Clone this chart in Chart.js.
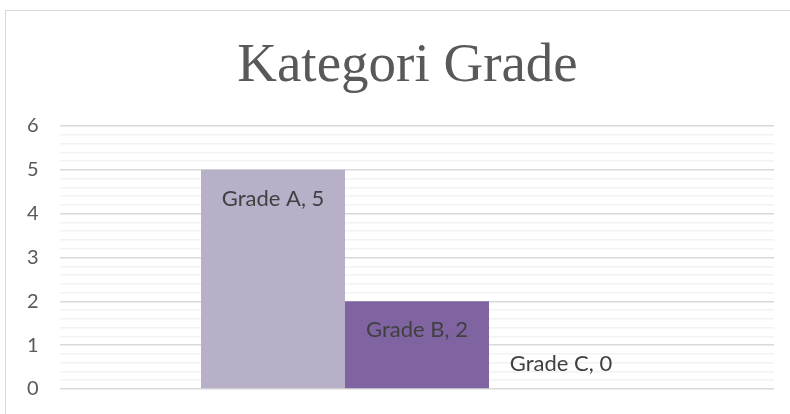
<!DOCTYPE html>
<html>
<head>
<meta charset="utf-8">
<script src="https://cdn.jsdelivr.net/npm/chart.js@4/dist/chart.umd.min.js"></script>
<style>
  html, body { margin: 0; padding: 0; background: #ffffff; }
  #wrap { position: relative; width: 790px; height: 414px; }
</style>
</head>
<body>
<div id="wrap"><canvas id="c" width="790" height="414"></canvas></div>
<script>
const chartTitle = "Kategori Grade";
const categories = ["Kategori"];
const seriesNames = ["Grade A", "Grade B", "Grade C"];
const seriesValues = [[5], [2], [0]];
const seriesColors = ["#B8AFC9", "#8064A2", "#4F3B6B"];
const yTickLabels = [0, 1, 2, 3, 4, 5, 6];

const isMajor = v => Math.abs(v - Math.round(v)) < 1e-6;

const framePlugin = {
  id: 'frame',
  beforeDraw(chart) {
    const ctx = chart.ctx;
    ctx.save();
    ctx.strokeStyle = '#D9D9D9';
    ctx.lineWidth = 1;
    ctx.strokeRect(5.5, 10.5, 1000, 1000);
    ctx.restore();
  }
};

const titlePlugin = {
  id: 'centeredTitle',
  afterDraw(chart) {
    const ctx = chart.ctx;
    ctx.save();
    ctx.font = '55px "Liberation Serif"';
    ctx.fillStyle = '#595959';
    ctx.textAlign = 'center';
    ctx.textBaseline = 'alphabetic';
    ctx.fillText(chartTitle, 407.5, 81);
    ctx.restore();
  }
};

const labelPlugin = {
  id: 'barLabels',
  afterDatasetsDraw(chart) {
    const ctx = chart.ctx;
    ctx.save();
    ctx.font = '22px Lato';
    ctx.fillStyle = '#404040';
    ctx.textAlign = 'center';
    ctx.textBaseline = 'alphabetic';
    chart.data.datasets.forEach((ds, i) => {
      const meta = chart.getDatasetMeta(i);
      meta.data.forEach((el, j) => {
        const v = ds.data[j];
        const txt = ds.label + ', ' + v;
        const y = v > 0 ? el.y + 36 : el.y - 18;
        ctx.fillText(txt, el.x, y);
      });
    });
    ctx.restore();
  }
};

new Chart(document.getElementById('c'), {
  type: 'bar',
  data: {
    labels: categories,
    datasets: seriesNames.map((n, i) => ({
      label: n,
      data: seriesValues[i],
      backgroundColor: seriesColors[i],
      borderWidth: 0,
      categoryPercentage: 0.605,
      barPercentage: 1.0
    }))
  },
  options: {
    responsive: false,
    animation: false,
    layout: { padding: { left: 27, right: 16, top: 126, bottom: 25 } },
    plugins: {
      legend: { display: false },
      tooltip: { enabled: false },
      title: { display: false }
    },
    scales: {
      x: {
        display: false,
        offset: true
      },
      y: {
        min: 0,
        max: 6,
        afterFit: s => { s.width = 33; },
        afterBuildTicks: s => {
          const t = [];
          for (let k = 0; k <= 30; k++) t.push({ value: +(k * 0.2).toFixed(1) });
          s.ticks = t;
        },
        border: { display: false },
        grid: {
          drawTicks: false,
          color: c => isMajor(c.tick.value) ? '#D9D9D9' : '#F2F2F2',
          lineWidth: 1.5
        },
        ticks: {
          autoSkip: false,
          padding: 0,
          crossAlign: 'far',
          color: '#595959',
          font: { family: 'Lato', size: 20, lineHeight: 1 },
          callback: v => (isMajor(v) && yTickLabels.includes(Math.round(v))) ? String(Math.round(v)) : ''
        }
      }
    }
  },
  plugins: [framePlugin, labelPlugin, titlePlugin]
});
</script>
</body>
</html>
